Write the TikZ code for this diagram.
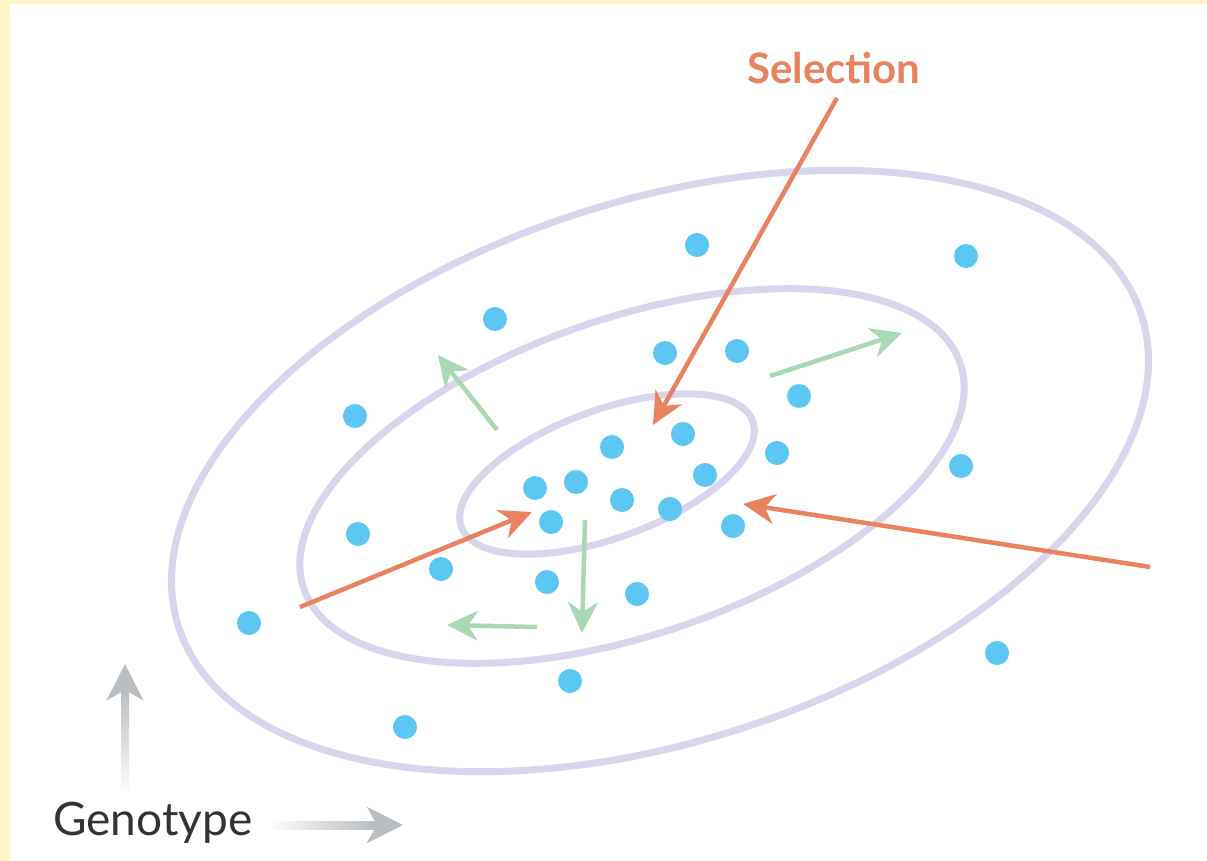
\documentclass[tikz,border=0pt]{standalone}
\usepackage{fontspec}
\setmainfont{Lato}
\usetikzlibrary{arrows.meta}
\definecolor{Cfundo}{RGB}{255,243,200}
\definecolor{Clilas}{RGB}{216,214,236}
\definecolor{Cazul}{RGB}{91,199,242}
\definecolor{Claranja}{RGB}{232,130,95}
\definecolor{Cverde}{RGB}{168,217,180}
\definecolor{Ccinza}{RGB}{184,190,194}
\definecolor{Ctexto}{RGB}{51,51,51}
\begin{document}
\begin{tikzpicture}[x=1pt, y=-1pt,
      ind/.style={circle, fill=Cazul, inner sep=0pt, minimum size=24pt},
      nivel/.style={draw=Clilas, line width=7pt},
      sel/.style={draw=Claranja, line width=4.5pt,
                  -{Stealth[length=32pt, width=30pt, inset=10pt]}},
      deriva/.style={draw=Cverde, line width=4.5pt,
                     -{Stealth[length=31pt, width=30pt, inset=10pt]}},
      eixo/.style={draw=Ccinza, line width=8pt,
                   -{Stealth[length=36pt, width=36pt, inset=10pt]}}]
    \useasboundingbox (0,0) rectangle (1207,861);
    % Moldura
    \fill[Cfundo] (0,0) rectangle (1207,861);
    \fill[white] (10,4) rectangle (1207,861);
    % Curvas de nivel
    \draw[nivel, rotate around={18:(660,471)}] (660,471)
      ellipse [x radius=506pt, y radius=270pt];
    \draw[nivel, rotate around={19:(632,476)}] (632,476)
      ellipse [x radius=347pt, y radius=158pt];
    \draw[nivel, rotate around={20:(607,474)}] (607,474)
      ellipse [x radius=155pt, y radius=64pt];
    % Individuos
    \node[ind] (d1)  at (697,245) {};
    \node[ind] (d2)  at (966,256) {};
    \node[ind] (d3)  at (495,319) {};
    \node[ind] (d4)  at (665,353) {};
    \node[ind] (d5)  at (737,351) {};
    \node[ind] (d6)  at (799,396) {};
    \node[ind] (d7)  at (355,416) {};
    \node[ind] (d8)  at (612,447) {};
    \node[ind] (d9)  at (683,434) {};
    \node[ind] (d10) at (777,453) {};
    \node[ind] (d11) at (961,466) {};
    \node[ind] (d12) at (535,488) {};
    \node[ind] (d13) at (576,482) {};
    \node[ind] (d14) at (622,500) {};
    \node[ind] (d15) at (705,475) {};
    \node[ind] (d16) at (670,509) {};
    \node[ind] (d17) at (551,522) {};
    \node[ind] (d18) at (733,526) {};
    \node[ind] (d19) at (358,534) {};
    \node[ind] (d20) at (441,569) {};
    \node[ind] (d21) at (547,582) {};
    \node[ind] (d22) at (637,594) {};
    \node[ind] (d23) at (249,623) {};
    \node[ind] (d24) at (997,653) {};
    \node[ind] (d25) at (570,681) {};
    \node[ind] (d26) at (405,727) {};
    % Selecao
    \node[font=\fontsize{42}{50}\selectfont\bfseries, text=Claranja,
          anchor=base west, inner sep=0pt] (sel) at (747,84) {Selection};
    \coordinate (s1a) at (837,98);   \coordinate (s1b) at (653,425);
    \coordinate (s2a) at (300,607);  \coordinate (s2b) at (532,512);
    \coordinate (s3a) at (1150,567); \coordinate (s3b) at (743,504);
    \draw[sel] (s1a) -- (s1b);
    \draw[sel] (s2a) -- (s2b);
    \draw[sel] (s3a) -- (s3b);
    % Deriva
    \coordinate (g1a) at (497,430); \coordinate (g1b) at (438,355);
    \coordinate (g2a) at (770,376); \coordinate (g2b) at (902,333);
    \coordinate (g3a) at (585,520); \coordinate (g3b) at (582,633);
    \coordinate (g4a) at (537,627); \coordinate (g4b) at (447,625);
    \draw[deriva] (g1a) -- (g1b);
    \draw[deriva] (g2a) -- (g2b);
    \draw[deriva] (g3a) -- (g3b);
    \draw[deriva] (g4a) -- (g4b);
    % Eixos
    \shade[top color=Ccinza, bottom color=white] (121,795) rectangle (129,690);
    \shade[left color=white, right color=Ccinza] (266,821) rectangle (375,829);
    \coordinate (ya) at (125,695); \coordinate (yb) at (125,664);
    \coordinate (xa) at (370,825); \coordinate (xb) at (403,825);
    \draw[eixo] (ya) -- (yb);
    \draw[eixo] (xa) -- (xb);
    \node[font=\fontsize{46}{55}\selectfont, text=Ctexto,
          anchor=base west, inner sep=0pt] (gen) at (53,835) {Genotype};
  \end{tikzpicture}
\end{document}
